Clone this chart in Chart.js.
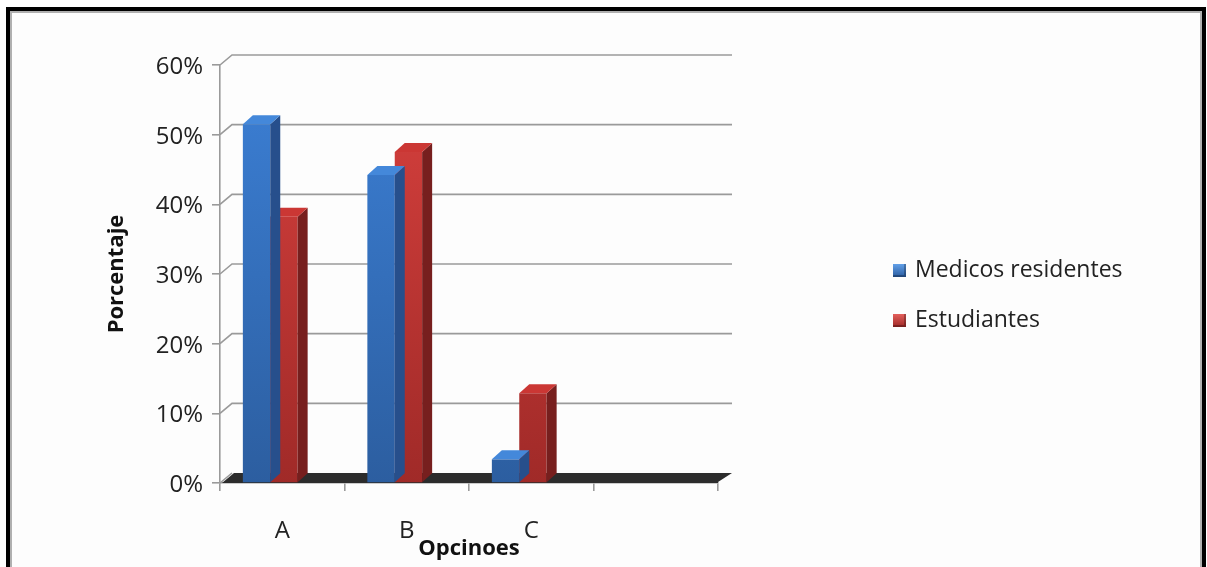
<!DOCTYPE html>
<html>
<head>
<meta charset="utf-8">
<script src="https://cdn.jsdelivr.net/npm/chart.js@4/dist/chart.umd.min.js"></script>
<style>
  html, body { margin:0; padding:0; width:1207px; height:567px; overflow:hidden; background:#ffffff; }
  #frame { position:absolute; left:6px; top:7px; width:1192px; height:620px;
           border:4px solid #000; border-bottom:none; background:#fdfdfd;
           box-shadow: inset 2px 2px 0 #b0b0b0, inset -2px 0 0 #b0b0b0; }
  #c { position:absolute; left:0; top:0; }
  .lg { position:absolute; left:893px; font-family:"Open Sans", sans-serif; font-size:23px; color:#222;
        line-height:26px; white-space:nowrap; }
  .sw { display:inline-block; width:13px; height:13px; margin-right:9px; vertical-align:0px; }
</style>
</head>
<body>
<div id="frame"></div>
<canvas id="c" width="1207" height="567"></canvas>
<div id="legend"></div>
<script>
const categories = ['A', 'B', 'C', ''];
const seriesNames = ['Medicos residentes', 'Estudiantes'];
const medicos = [0.515, 0.442, 0.034, null];
const estudiantes = [0.382, 0.475, 0.129, null];
const yTickValues = [0, 0.1, 0.2, 0.3, 0.4, 0.5, 0.6];
const xTitle = 'Opcinoes';
const yTitle = 'Porcentaje';

const DEPTH_X = 12, DEPTH_Y = 10;   // wall / floor depth
const BAR_DX = 10, BAR_DY = 9;      // bar extrusion
const SHIFT = -12;

const palette = [
  { top:'#3c80d6', bottom:'#2c5e a0'.replace(' ', ''), side:'#274f8c', cap:'#4488da', sw:['#62a0e8','#2a5ca0'] },
  { top:'#d8413e', bottom:'#a02a28', side:'#771f1e', cap:'#cb3734', sw:['#e4605c','#9e2826'] }
];

function frontGradient(ctx, i) {
  const chart = ctx.chart;
  const area = chart.chartArea;
  if (!area) return palette[i].top;
  const g = chart.ctx.createLinearGradient(0, area.top, 0, area.bottom);
  g.addColorStop(0, palette[i].top);
  g.addColorStop(1, palette[i].bottom);
  return g;
}

const wallPlugin = {
  id: 'wall3d',
  beforeDatasetsDraw(chart) {
    const { ctx, chartArea: a, scales: { y } } = chart;
    ctx.save();
    ctx.strokeStyle = '#9a9a9a';
    ctx.lineWidth = 1.6;
    yTickValues.forEach(v => {
      const py = y.getPixelForValue(v);
      ctx.beginPath();
      ctx.moveTo(a.left, py);
      ctx.lineTo(a.left + DEPTH_X, py - DEPTH_Y);
      if (v > 0) ctx.lineTo(a.right + DEPTH_X + 2, py - DEPTH_Y);
      ctx.stroke();
    });
    // floor
    const py0 = y.getPixelForValue(0);
    ctx.fillStyle = '#2c2c2c';
    ctx.beginPath();
    ctx.moveTo(a.left + 2, py0);
    ctx.lineTo(a.left + 2 + DEPTH_X, py0 - DEPTH_Y);
    ctx.lineTo(a.right + DEPTH_X + 2, py0 - DEPTH_Y);
    ctx.lineTo(a.right, py0 - 1);
    ctx.lineTo(a.right, py0);
    ctx.closePath();
    ctx.fill();
    ctx.restore();
    ctx.save();
    ctx.translate(SHIFT, 0);
  },
  afterDatasetDraw(chart, args) {
    const { ctx } = chart;
    const i = args.index;
    const meta = args.meta;
    meta.data.forEach(bar => {
      if (bar.skip || bar.$context?.raw == null) return;
      const p = bar.getProps(['x', 'y', 'base', 'width'], true);
      const l = p.x - p.width / 2, r = p.x + p.width / 2;
      ctx.fillStyle = palette[i].side;
      ctx.beginPath();
      ctx.moveTo(r, p.y);
      ctx.lineTo(r + BAR_DX, p.y - BAR_DY);
      ctx.lineTo(r + BAR_DX, p.base - BAR_DY);
      ctx.lineTo(r, p.base);
      ctx.closePath();
      ctx.fill();
      ctx.fillStyle = palette[i].cap;
      ctx.beginPath();
      ctx.moveTo(l, p.y);
      ctx.lineTo(l + BAR_DX, p.y - BAR_DY);
      ctx.lineTo(r + BAR_DX, p.y - BAR_DY);
      ctx.lineTo(r, p.y);
      ctx.closePath();
      ctx.fill();
    });
  },
  afterDatasetsDraw(chart) {
    chart.ctx.restore();
  }
};

const chart = new Chart(document.getElementById('c'), {
  type: 'bar',
  data: {
    labels: categories,
    datasets: [
      { label: seriesNames[0], data: medicos, backgroundColor: c => frontGradient(c, 0) },
      { label: seriesNames[1], data: estudiantes, backgroundColor: c => frontGradient(c, 1) }
    ]
  },
  options: {
    responsive: false,
    animation: false,
    events: [],
    layout: { padding: { left: 104, top: 65, right: 489, bottom: 5 } },
    datasets: { bar: { categoryPercentage: 0.44, barPercentage: 1.0, borderWidth: 0 } },
    plugins: { legend: { display: false }, tooltip: { enabled: false } },
    scales: {
      x: {
        afterFit: s => { s.height = 79; },
        grid: { display: true, offset: true, drawOnChartArea: false, drawTicks: true, tickLength: 8, color: '#9a9a9a', lineWidth: 1.6 },
        border: { display: true, color: '#9a9a9a', width: 1.6 },
        ticks: { padding: 26, color: '#222', font: { family: 'Open Sans', size: 24 } },
        title: { display: true, text: xTitle, padding: 0, color: '#111', font: { family: 'Open Sans', size: 22, weight: 'bold' } }
      },
      y: {
        min: 0, max: 0.6,
        afterFit: s => { s.width = 116; },
        afterBuildTicks: s => { s.ticks = yTickValues.map(v => ({ value: v })); },
        grid: { display: true, drawOnChartArea: false, drawTicks: true, tickLength: 8, color: '#9a9a9a', lineWidth: 1.6 },
        border: { display: true, color: '#9a9a9a', width: 1.6 },
        ticks: { padding: 9, labelOffset: 2, color: '#222', font: { family: 'Open Sans', size: 24 },
                 callback: v => Math.round(v * 100) + '%' },
        title: { display: true, text: yTitle, padding: 0, color: '#111', font: { family: 'Open Sans', size: 22, weight: 'bold' } }
      }
    }
  },
  plugins: [wallPlugin]
});

// HTML legend built from the series
const legend = document.getElementById('legend');
const legendTops = [255, 305];
seriesNames.forEach((name, i) => {
  const d = document.createElement('div');
  d.className = 'lg';
  d.style.top = legendTops[i] + 'px';
  const sw = document.createElement('span');
  sw.className = 'sw';
  sw.style.background = 'linear-gradient(to bottom,' + palette[i].sw[0] + ',' + palette[i].sw[1] + ')';
  sw.style.boxShadow = 'inset -2px -2px 0 rgba(0,0,0,0.25)';
  d.appendChild(sw);
  d.appendChild(document.createTextNode(name));
  legend.appendChild(d);
});
</script>
</body>
</html>
